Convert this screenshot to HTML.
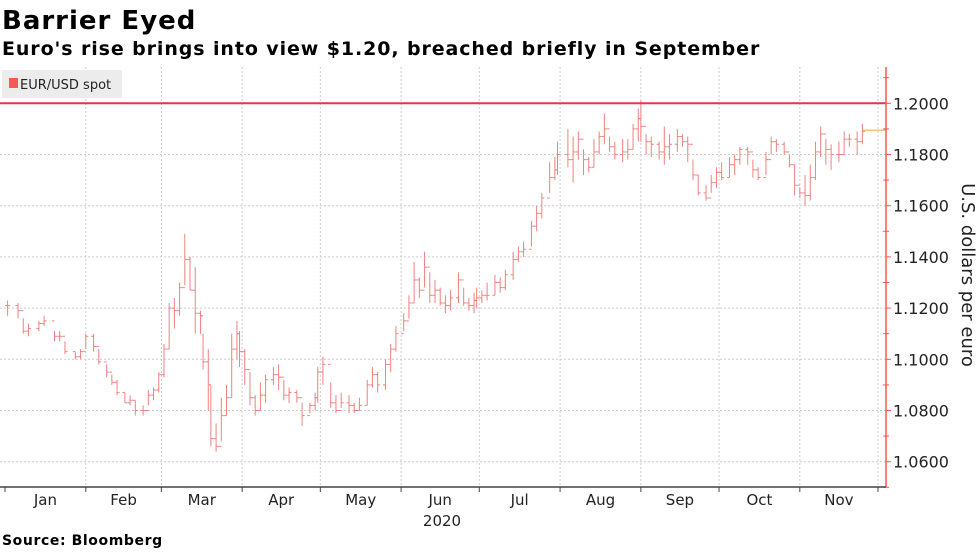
<!DOCTYPE html>
<html><head><meta charset="utf-8"><style>
body{margin:0;background:#fff;width:977px;height:549px;overflow:hidden;font-family:"Liberation Sans",sans-serif}
svg text{font-family:"DejaVu Sans","Liberation Sans",sans-serif}
</style></head><body>
<svg id="chart" width="977" height="549">
<text x="2" y="29" font-size="26" font-weight="bold" fill="#000" letter-spacing="1">Barrier Eyed</text>
<text x="2" y="55" font-size="19" font-weight="bold" fill="#000" letter-spacing="0.9">Euro's rise brings into view $1.20, breached briefly in September</text>
<g id="grid"></g>
<g id="bars"></g>
<g id="axes"></g>
<rect x="2" y="70" width="120" height="28" fill="#ececec"/>
<rect x="9" y="78" width="9" height="10" fill="#f55"/>
<text x="20" y="89" font-size="13" fill="#222">EUR/USD spot</text>
<text x="962" y="275" font-size="18" fill="#222" text-anchor="middle" transform="rotate(90 962 275)">U.S. dollars per euro</text>
<text x="442" y="526" font-size="15" fill="#222" text-anchor="middle">2020</text>
<text x="2" y="545" font-size="14" font-weight="bold" fill="#000" letter-spacing="0.6">Source: Bloomberg</text>
</svg>
<script>
const days=[2,6,8,10,14,16,20,22,24,28,30,32,35,37,40,42,44,47,49,51,54,56,58,60,62,64,66,68,70,72,74,76,77,79,80,82,84,86,88,90,91,93,95,97,99,101,104,106,108,110,113,115,118,120,121,123,126,128,130,133,135,137,140,142,144,147,149,151,154,156,158,160,162,164,166,168,170,172,175,177,179,181,182,184,186,189,191,193,196,198,200,203,205,207,210,212,213,217,219,221,223,225,227,229,231,233,235,238,240,242,244,245,247,249,252,254,256,259,261,263,265,267,270,272,274,276,279,281,283,286,288,290,293,295,297,300,302,304,306,308,310,312,314,316,318,321,323,325,328,330];
const closes=[1.121,1.119,1.111,1.112,1.114,1.115,1.109,1.109,1.103,1.101,1.103,1.109,1.105,1.099,1.095,1.091,1.087,1.083,1.084,1.080,1.080,1.086,1.088,1.094,1.104,1.120,1.119,1.128,1.139,1.127,1.118,1.117,1.099,1.090,1.069,1.066,1.078,1.085,1.104,1.110,1.103,1.096,1.085,1.080,1.086,1.092,1.094,1.093,1.086,1.087,1.085,1.078,1.082,1.085,1.095,1.098,1.083,1.080,1.083,1.082,1.080,1.082,1.090,1.094,1.090,1.098,1.104,1.110,1.115,1.122,1.131,1.127,1.136,1.125,1.127,1.122,1.121,1.124,1.131,1.122,1.121,1.123,1.124,1.125,1.125,1.130,1.128,1.133,1.139,1.142,1.143,1.152,1.157,1.163,1.171,1.174,1.180,1.178,1.181,1.186,1.178,1.175,1.181,1.187,1.190,1.183,1.180,1.181,1.182,1.190,1.194,1.191,1.185,1.184,1.181,1.183,1.184,1.187,1.185,1.184,1.172,1.165,1.163,1.169,1.173,1.171,1.176,1.178,1.182,1.181,1.174,1.171,1.178,1.185,1.184,1.181,1.176,1.168,1.165,1.164,1.171,1.181,1.188,1.182,1.180,1.180,1.186,1.186,1.185,1.189];
const highs=[1.123,1.122,1.116,1.114,1.115,1.117,1.111,1.111,1.107,1.103,1.104,1.110,1.110,1.104,1.098,1.094,1.092,1.087,1.086,1.084,1.082,1.088,1.089,1.095,1.106,1.122,1.124,1.130,1.149,1.140,1.136,1.119,1.110,1.104,1.090,1.075,1.085,1.090,1.110,1.115,1.111,1.104,1.095,1.086,1.091,1.094,1.097,1.098,1.092,1.089,1.088,1.083,1.083,1.087,1.097,1.101,1.091,1.086,1.087,1.086,1.083,1.085,1.092,1.097,1.095,1.100,1.106,1.113,1.118,1.125,1.138,1.132,1.142,1.134,1.131,1.128,1.125,1.127,1.134,1.128,1.124,1.126,1.128,1.127,1.130,1.133,1.132,1.135,1.142,1.144,1.146,1.154,1.160,1.165,1.177,1.179,1.185,1.190,1.187,1.189,1.182,1.179,1.186,1.189,1.196,1.187,1.185,1.186,1.186,1.192,1.198,1.201,1.188,1.187,1.185,1.191,1.188,1.190,1.188,1.187,1.178,1.172,1.168,1.172,1.175,1.177,1.179,1.180,1.183,1.183,1.178,1.175,1.181,1.187,1.186,1.185,1.180,1.176,1.167,1.172,1.176,1.185,1.191,1.186,1.184,1.185,1.189,1.188,1.189,1.192];
const lows=[1.117,1.116,1.110,1.109,1.111,1.113,1.107,1.107,1.102,1.100,1.100,1.104,1.103,1.098,1.093,1.090,1.086,1.083,1.082,1.078,1.078,1.082,1.084,1.087,1.093,1.104,1.112,1.117,1.129,1.127,1.110,1.110,1.096,1.080,1.066,1.064,1.068,1.078,1.085,1.100,1.097,1.090,1.082,1.078,1.080,1.083,1.090,1.088,1.084,1.083,1.083,1.074,1.079,1.080,1.083,1.090,1.081,1.079,1.081,1.079,1.079,1.080,1.082,1.089,1.087,1.088,1.095,1.103,1.111,1.116,1.122,1.124,1.128,1.122,1.122,1.121,1.118,1.119,1.122,1.121,1.119,1.118,1.120,1.122,1.123,1.125,1.126,1.127,1.131,1.138,1.140,1.144,1.150,1.155,1.165,1.170,1.172,1.175,1.169,1.178,1.172,1.173,1.175,1.180,1.184,1.181,1.178,1.177,1.178,1.182,1.185,1.185,1.180,1.179,1.178,1.176,1.178,1.181,1.183,1.177,1.170,1.164,1.162,1.165,1.167,1.170,1.171,1.172,1.176,1.176,1.171,1.170,1.172,1.180,1.181,1.180,1.175,1.164,1.163,1.160,1.162,1.170,1.179,1.176,1.174,1.177,1.180,1.183,1.180,1.184];
const lastValue=1.1895;
const barrier=1.2;
const yTicks=[1.06,1.08,1.10,1.12,1.14,1.16,1.18,1.20];
const monthLabels=["Jan","Feb","Mar","Apr","May","Jun","Jul","Aug","Sep","Oct","Nov"];
const monthStarts=[1,32,61,92,122,153,183,214,245,275,306,336];

const NS="http://www.w3.org/2000/svg";
const X0=5,X1=878,AX=886,YB=487,YT=67;
const xS=d=>X0+(d-1)*(X1-X0)/335;
const yS=v=>103.3+(1.2-v)*(461.7-103.3)/0.14;
function mk(tag,attrs,parent,txt){const e=document.createElementNS(NS,tag);for(const k in attrs)e.setAttribute(k,attrs[k]);if(txt!=null)e.textContent=txt;parent.appendChild(e);return e;}
const grid=document.getElementById('grid'),bars=document.getElementById('bars'),axes=document.getElementById('axes');
yTicks.forEach(v=>{const l=mk('line',{x1:0,x2:AX,y1:yS(v),y2:yS(v),stroke:'#ccc','stroke-dasharray':'2,2'},grid);

});
monthStarts.slice(1).forEach(d=>{const l=mk('line',{x1:xS(d),x2:xS(d),y1:YT,y2:YB,stroke:'#ccc','stroke-dasharray':'2,2'},grid);

});
days.forEach((d,i)=>{const x=xS(d),g=mk('g',{stroke:'#f08080','stroke-width':1},bars);


const o=i>0?closes[i-1]:closes[i];
mk('line',{x1:x,x2:x,y1:yS(highs[i]),y2:yS(lows[i])},g);
mk('line',{x1:x-2.5,x2:x,y1:yS(o),y2:yS(o)},g);
mk('line',{x1:x,x2:x+2.5,y1:yS(closes[i]),y2:yS(closes[i])},g);});
const ll=mk('line',{x1:xS(days[days.length-1]),x2:AX,y1:yS(lastValue),y2:yS(lastValue),stroke:'#f5a030','stroke-width':1},bars);


const bl=mk('line',{x1:0,x2:AX,y1:yS(barrier),y2:yS(barrier),stroke:'#e8334f','stroke-width':2},bars);


const ya=mk('line',{x1:AX,x2:AX,y1:YT,y2:YB,stroke:'#f55','stroke-width':1.5},axes);


for(let v=1.05;v<=1.2101;v+=0.01){const major=Math.abs(Math.round(v*100)%2)===0;
const t=mk('line',{x1:AX-(major?0:3),x2:AX+(major?5:3),y1:yS(v),y2:yS(v),stroke:'#f55'},axes);

}
yTicks.forEach(v=>{const t=mk('text',{x:893,y:yS(v)+6,'font-size':16,fill:'#222'},axes,v.toFixed(4));

});
const xa=mk('line',{x1:0,x2:AX,y1:YB,y2:YB,stroke:'#444','stroke-width':1.5},axes);


monthStarts.forEach(d=>{const t=mk('line',{x1:xS(d),x2:xS(d),y1:YB,y2:YB+5,stroke:'#444'},axes);

});
monthLabels.forEach((m,i)=>{const t=mk('text',{x:(xS(monthStarts[i])+xS(monthStarts[i+1]))/2,y:505,'font-size':15,fill:'#222','text-anchor':'middle'},axes,m);

});
</script>
</body></html>
